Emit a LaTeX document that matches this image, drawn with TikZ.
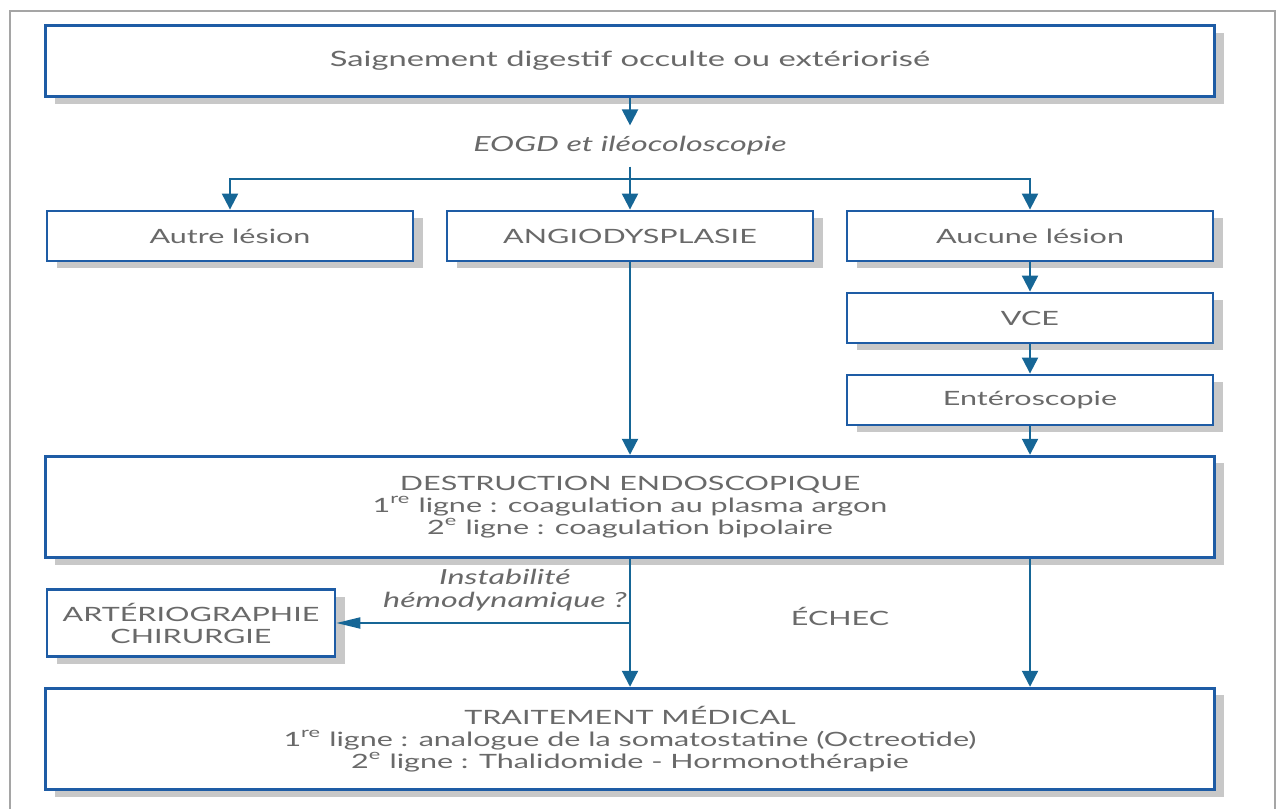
\documentclass[tikz,border=0pt]{standalone}
\usepackage{fontspec}
\setmainfont[FakeStretch=1.55]{Lato}
\usetikzlibrary{arrows.meta, shadows}

\definecolor{boxblue}{RGB}{30,92,165}
\definecolor{linkblue}{RGB}{22,102,150}
\definecolor{textgrey}{RGB}{105,105,105}
\definecolor{shadowgrey}{RGB}{200,200,200}
\definecolor{framegrey}{RGB}{165,165,165}

\begin{document}
\begin{tikzpicture}[
  x=0.0125cm, y=-0.0125cm,
  every node/.style={font=\fontsize{7}{7.8}\selectfont, text=textgrey},
  box/.style={rectangle, draw=boxblue, line width=1pt, fill=white, align=center,
    drop shadow={shadow xshift=0.12cm, shadow yshift=-0.09cm, fill=shadowgrey, opacity=1}},
  small box/.style={box, minimum width=4.575cm, minimum height=0.625cm},
  wide box/.style={box, minimum width=14.6cm, minimum height=1.27cm},
  link/.style={draw=linkblue, line width=0.75pt},
  arrow/.style={link, -{Triangle[length=0.2cm, width=0.2cm]}},
  side arrow/.style={draw=linkblue, line width=0.5pt, -{Triangle[length=0.3cm, width=0.14cm]}},
  note/.style={font=\fontsize{7.4}{8.2}\selectfont\itshape}
]
\clip (0,0) rectangle (1277,809);
\draw[framegrey, line width=0.6pt] (10,11) rectangle (1275,840);

% boxes
\node[box, minimum width=14.6cm, minimum height=0.8875cm, font=\fontsize{7.5}{8.5}\selectfont] (top) at (630,61) {Saignement digestif occulte ou extériorisé};
\node[note, minimum height=0.5cm] (eogd) at (630,146) {EOGD et iléocoloscopie};
\node[small box] (autre) at (230,236) {Autre lésion};
\node[small box] (angio) at (630,236) {ANGIODYSPLASIE};
\node[small box] (aucune) at (1030,236) {Aucune lésion};
\node[small box] (vce) at (1030,318) {VCE};
\node[small box] (entero) at (1030,400) {Entéroscopie};
\node[wide box] (destr) at (630,507) {DESTRUCTION ENDOSCOPIQUE\\1\textsuperscript{re} ligne : coagulation au plasma argon\\2\textsuperscript{e} ligne : coagulation bipolaire};
\node[box, minimum width=3.6cm, minimum height=0.84cm] (arterio) at (191,623) {ARTÉRIOGRAPHIE\\CHIRURGIE};
\node[wide box] (trait) at (630,739) {TRAITEMENT MÉDICAL\\1\textsuperscript{re} ligne : analogue de la somatostatine (Octreotide)\\2\textsuperscript{e} ligne : Thalidomide - Hormonothérapie};

% labels
\node[note, align=center, anchor=south] (instab) at (505,621) {Instabilité\\hémodynamique ?};
\node (echec) at (840,616) {ÉCHEC};

% connectors
\coordinate (split) at (630,179);
\coordinate (hemo) at (630,623);
\draw[arrow] (top) -- (eogd);
\draw[link] (eogd) -- (split);
\draw[arrow] (split) -| (autre);
\draw[arrow] (split) -- (angio);
\draw[arrow] (split) -| (aucune);
\draw[arrow] (aucune) -- (vce);
\draw[arrow] (vce) -- (entero);
\draw[arrow] (angio) -- (destr.north -| angio);
\draw[arrow] (entero) -- (destr.north -| entero);
\draw[arrow] (destr.south -| angio) -- (trait.north -| angio);
\draw[arrow] (destr.south -| entero) -- (trait.north -| entero);
\draw[side arrow] (hemo) -- (arterio);
\end{tikzpicture}
\end{document}
